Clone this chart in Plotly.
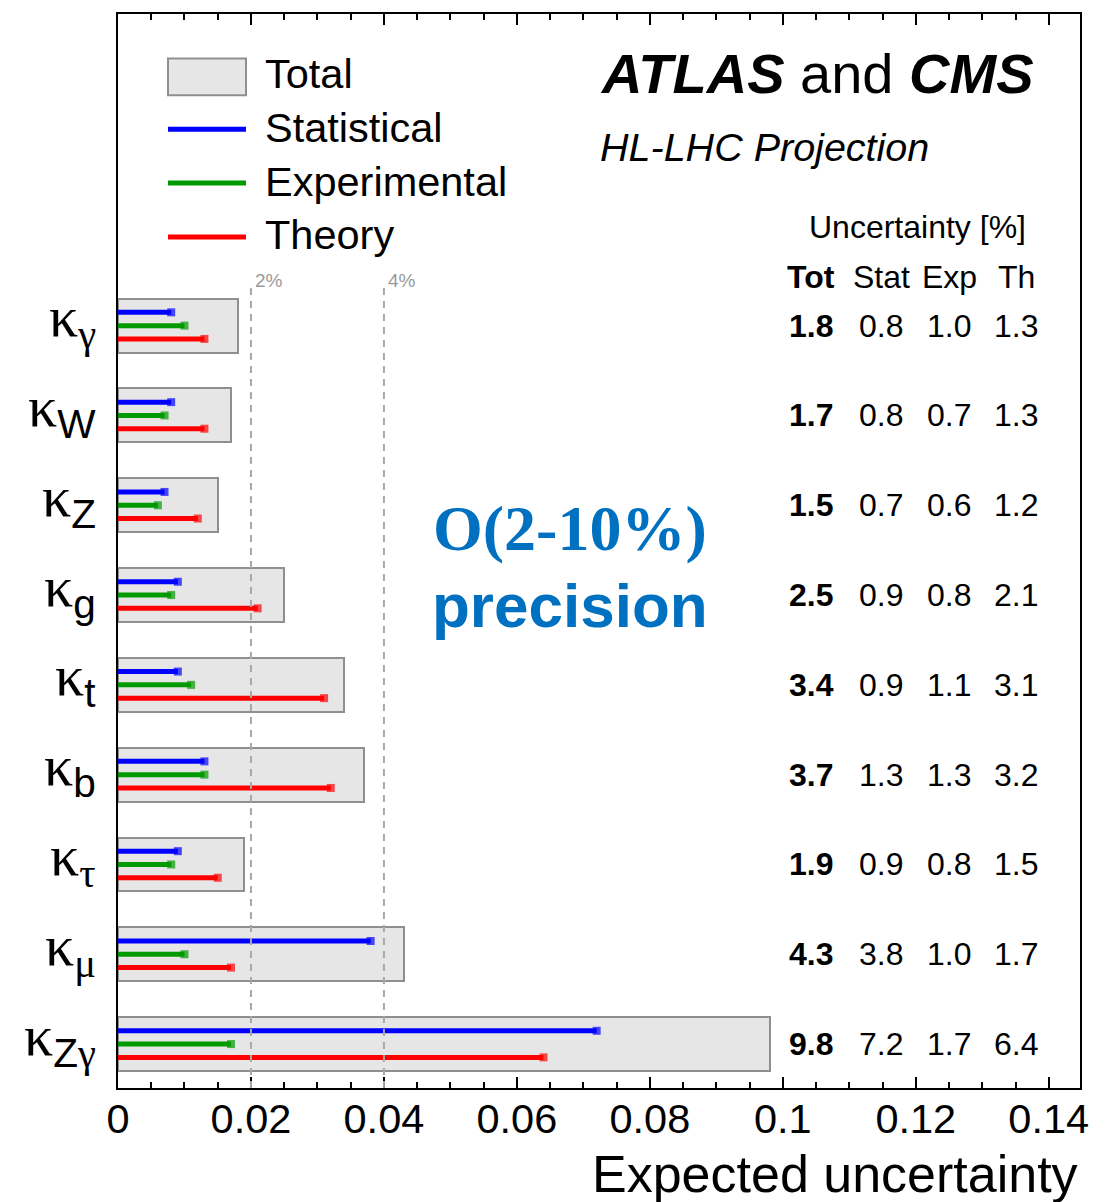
import plotly.graph_objects as go

# ---------------- data ----------------
couplings = ["κZγ", "κμ", "κτ", "κb", "κt", "κg", "κZ", "κW", "κγ"]  # bottom -> top
label_html = [
    "κ<sub><span style='font-family:Liberation Sans'>Z</span>γ</sub>",
    "κ<sub>μ</sub>",
    "κ<sub>τ</sub>",
    "κ<sub><span style='font-family:Liberation Sans'>b</span></sub>",
    "κ<sub><span style='font-family:Liberation Sans'>t</span></sub>",
    "κ<sub><span style='font-family:Liberation Sans'>g</span></sub>",
    "κ<sub><span style='font-family:Liberation Sans'>Z</span></sub>",
    "κ<sub><span style='font-family:Liberation Sans'>W</span></sub>",
    "κ<sub>γ</sub>",
]
tot_pct = [9.8, 4.3, 1.9, 3.7, 3.4, 2.5, 1.5, 1.7, 1.8]
stat_pct = [7.2, 3.8, 0.9, 1.3, 0.9, 0.9, 0.7, 0.8, 0.8]
exp_pct = [1.7, 1.0, 0.8, 1.3, 1.1, 0.8, 0.6, 0.7, 1.0]
th_pct = [6.4, 1.7, 1.5, 3.2, 3.1, 2.1, 1.2, 1.3, 1.3]

x_tickvals = [0, 0.02, 0.04, 0.06, 0.08, 0.1, 0.12, 0.14]
x_ticktext = ["0", "0.02", "0.04", "0.06", "0.08", "0.1", "0.12", "0.14"]
ref_lines = [0.02, 0.04]
ref_labels = ["2%", "4%"]

# ---------------- layout geometry helpers ----------------
W, H = 1118, 1202
L, R, T, B = 118, 1080, 11.5, 1088


def px(xpix):
    return (xpix - L) / (R - L)


def py(ypix):
    return (B - ypix) / (B - T)


SANS = "Liberation Sans"
SERIF = "Liberation Serif"
BLUE, GREEN, RED = "#0000ff", "#009900", "#ff0000"
BOXFILL, BOXLINE = "#e6e6e6", "#8f8f8f"

ypos = list(range(len(couplings)))
fig = go.Figure()

# total boxes
fig.add_trace(go.Bar(
    x=[v / 100 for v in tot_pct], y=ypos, orientation="h", width=0.6,
    marker=dict(color=BOXFILL, line=dict(color=BOXLINE, width=2)),
    showlegend=False, hoverinfo="skip",
))

# component lines with end caps
OFF = 0.148
for vals, col, off in [(stat_pct, BLUE, OFF), (exp_pct, GREEN, 0.0), (th_pct, RED, -OFF)]:
    xs, ys, sz = [], [], []
    for i, v in enumerate(vals):
        xs += [0, v / 100, None]
        ys += [i + off, i + off, None]
        sz += [0, 8, 0]
    fig.add_trace(go.Scatter(
        x=xs, y=ys, mode="lines+markers",
        line=dict(color=col, width=5),
        marker=dict(symbol="square", size=sz, color=col, line=dict(width=0)),
        showlegend=False, hoverinfo="skip", connectgaps=False,
    ))

shapes = []
annotations = []

# reference dashed lines
for xv, lab in zip(ref_lines, ref_labels):
    shapes.append(dict(type="line", xref="x", yref="paper", x0=xv, x1=xv,
                       y0=0, y1=py(284), line=dict(color="#a8a8a8", width=2, dash="7px,6px"),
                       layer="above"))
    annotations.append(dict(xref="x", yref="paper", x=xv, y=py(279), text=lab,
                            xanchor="left", yanchor="middle", xshift=2, showarrow=False,
                            font=dict(family=SANS, size=19, color="#9a9a9a")))

# coupling labels
for i, lab in enumerate(label_html):
    annotations.append(dict(xref="paper", yref="y", x=0, y=i, text=lab,
                            xanchor="right", yanchor="middle", xshift=-20, yshift=5,
                            showarrow=False, font=dict(family=SERIF, size=58, color="black")))

# table
col_x = [811, 881, 949, 1016]
for i in range(len(couplings)):
    vals = [tot_pct[i], stat_pct[i], exp_pct[i], th_pct[i]]
    for j, (cx, v) in enumerate(zip(col_x, vals)):
        t = f"{v:.1f}"
        if j == 0:
            t = f"<b>{t}</b>"
        annotations.append(dict(xref="paper", yref="y", x=px(cx), y=i, text=t,
                                xanchor="center", yanchor="middle", showarrow=False,
                                font=dict(family=SANS, size=32, color="black")))
for cx, h in zip(col_x, ["<b>Tot</b>", "Stat", "Exp", "Th"]):
    annotations.append(dict(xref="paper", yref="paper", x=px(cx), y=py(275), text=h,
                            xanchor="center", yanchor="middle", showarrow=False,
                            font=dict(family=SANS, size=32, color="black")))
annotations.append(dict(xref="paper", yref="paper", x=px(917), y=py(225), text="Uncertainty [%]",
                        xanchor="center", yanchor="middle", showarrow=False,
                        font=dict(family=SANS, size=32, color="black")))

# experiment label
annotations.append(dict(xref="paper", yref="paper", x=px(598), y=py(71),
                        text="<b><i>ATLAS</i></b> and <b><i>CMS</i></b>",
                        xanchor="left", yanchor="middle", showarrow=False,
                        font=dict(family=SANS, size=56, color="black")))
annotations.append(dict(xref="paper", yref="paper", x=px(598), y=py(145),
                        text="<i>HL-LHC Projection</i>",
                        xanchor="left", yanchor="middle", showarrow=False,
                        font=dict(family=SANS, size=39.5, color="black")))

# precision text
annotations.append(dict(xref="paper", yref="paper", x=px(570), y=py(527),
                        text="<b>O(2-10%)</b>", xanchor="center", yanchor="middle",
                        showarrow=False, font=dict(family=SERIF, size=64, color="#0070c0")))
annotations.append(dict(xref="paper", yref="paper", x=px(570), y=py(604),
                        text="<b>precision</b>", xanchor="center", yanchor="middle",
                        showarrow=False, font=dict(family=SANS, size=62, color="#0070c0")))

# legend
shapes.append(dict(type="rect", xref="paper", yref="paper", x0=px(168), x1=px(246),
                   y0=py(93), y1=py(56), fillcolor=BOXFILL, line=dict(color=BOXLINE, width=2)))
for yy, col in [(127, BLUE), (181, GREEN), (235, RED)]:
    shapes.append(dict(type="line", xref="paper", yref="paper", x0=px(168), x1=px(246),
                       y0=py(yy), y1=py(yy), line=dict(color=col, width=5)))
for yy, txt in [(71, "Total"), (125, "Statistical"), (179, "Experimental"), (233, "Theory")]:
    annotations.append(dict(xref="paper", yref="paper", x=px(263), y=py(yy), text=txt,
                            xanchor="left", yanchor="middle", showarrow=False,
                            font=dict(family=SANS, size=41.5, color="black")))

# x-axis title
annotations.append(dict(xref="paper", yref="paper", x=1, y=py(1174), text="Expected uncertainty",
                        xanchor="right", yanchor="middle", showarrow=False,
                        font=dict(family=SANS, size=52, color="black")))

fig.update_layout(
    width=W, height=H,
    margin=dict(l=L, r=W - R, t=T, b=H - B, pad=0),
    paper_bgcolor="white", plot_bgcolor="white",
    showlegend=False, bargap=0,
    shapes=shapes, annotations=annotations,
    xaxis=dict(range=[0, 0.1447], tickvals=x_tickvals, ticktext=x_ticktext,
               ticks="inside", ticklen=11, tickwidth=2, tickcolor="black",
               minor=dict(dtick=0.005, ticks="inside", ticklen=6, tickwidth=2, tickcolor="black"),
               showline=True, linecolor="black", linewidth=2, mirror="ticks",
               showgrid=False, zeroline=False, ticklabelstandoff=-7,
               tickfont=dict(family=SANS, size=41.5, color="black")),
    yaxis=dict(range=[-0.489, 11.47], showticklabels=False, ticks="",
               showline=True, linecolor="black", linewidth=2, mirror=True,
               showgrid=False, zeroline=False),
)

fig.write_html("out.html")
